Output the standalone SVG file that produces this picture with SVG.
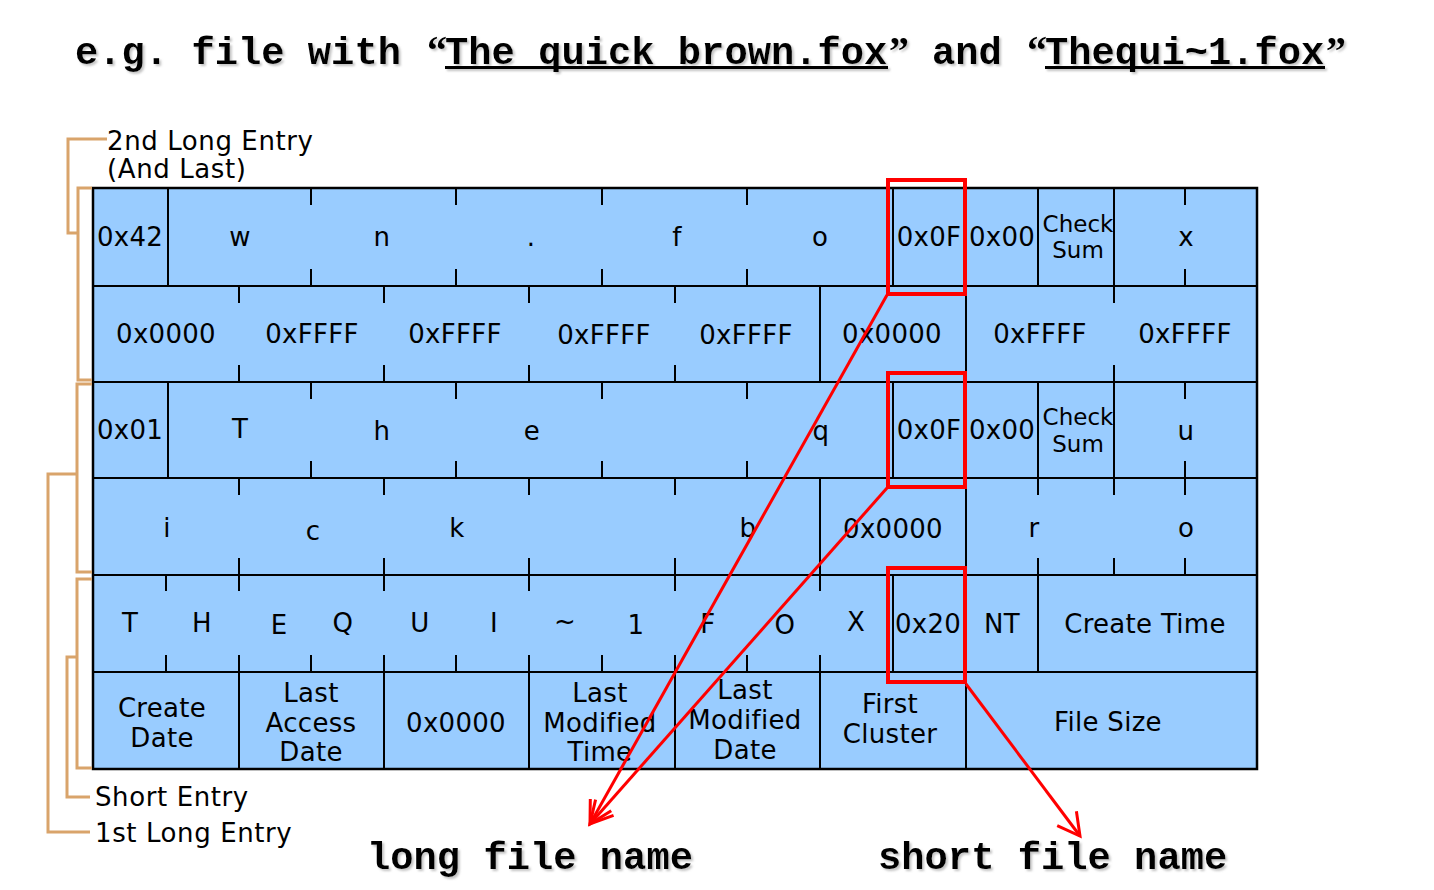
<svg xmlns="http://www.w3.org/2000/svg" width="1434" height="890" viewBox="0 0 1434 890">
<style>
.t{font-family:"DejaVu Sans","Liberation Sans",sans-serif;font-size:26px;fill:#000;text-anchor:middle;letter-spacing:0.3px}
.s{font-family:"DejaVu Sans","Liberation Sans",sans-serif;font-size:23px;fill:#000;text-anchor:middle}
.lbl{font-family:"DejaVu Sans","Liberation Sans",sans-serif;font-size:26px;fill:#000;letter-spacing:0.6px}
.big{font-family:"Liberation Mono","Courier New",monospace;font-weight:bold;font-size:38.8px;fill:#000}
.q{font-family:"Liberation Serif","Times New Roman",serif;font-weight:bold;font-size:40px}
.g{stroke:#000;stroke-width:2;fill:none}
.br{stroke:#D9A46B;stroke-width:3;fill:none}
.rb{stroke:#FF0000;stroke-width:4;fill:none}
.rl{stroke:#FF0000;stroke-width:3;fill:none}
</style>
<defs>
<filter id="sh" x="-5%" y="-30%" width="110%" height="160%">
<feDropShadow dx="2" dy="2" stdDeviation="1" flood-color="#888" flood-opacity="0.5"/>
</filter>
<marker id="ah" markerUnits="userSpaceOnUse" markerWidth="30" markerHeight="30" refX="0" refY="0" viewBox="-26 -15 30 30" orient="auto">
<path d="M -22 -12 L 0 0 L -22 12" stroke="#FF0000" stroke-width="3" fill="none"/>
</marker>
</defs>
<rect width="1434" height="890" fill="#fff"/>

<g id="title" filter="url(#sh)">
<text class="big" y="64"><tspan x="75">e.g. file with</tspan><tspan class="q" x="427">“</tspan><tspan x="445">The quick brown.fox</tspan><tspan class="q" x="889">”</tspan><tspan x="932">and</tspan><tspan class="q" x="1027">“</tspan><tspan x="1045">Thequi~1.fox</tspan><tspan class="q" x="1326">”</tspan></text>
<rect x="445" y="66" width="443" height="3" fill="#000"/>
<rect x="1045" y="66" width="280" height="3" fill="#000"/>
</g>

<g id="table">
<rect x="93" y="188" width="1164" height="581" fill="#99CCFF" stroke="#000" stroke-width="2.5"/>
<path class="g" d="M93 286H1257M93 382H1257M93 478H1257M93 575H1257M93 672H1257"/>
</g>

<g id="row1">
<path class="g" d="M168 188V286M893 188V286M966 188V286M1038 188V286M1114 188V286
M311 188v17M311 286v-17M456 188v17M456 286v-17M602 188v17M602 286v-17M747 188v17M747 286v-17M1185 188v17M1185 286v-17"/>
<text class="t" x="130" y="246">0x42</text>
<text class="t" x="240" y="246">w</text>
<text class="t" x="382" y="246">n</text>
<text class="t" x="531" y="246">.</text>
<text class="t" x="677" y="246">f</text>
<text class="t" x="820" y="246">o</text>
<text class="t" x="929" y="246">0x0F</text>
<text class="t" x="1002" y="246">0x00</text>
<text class="s" x="1078" y="232">Check</text>
<text class="s" x="1078" y="258">Sum</text>
<text class="t" x="1186" y="246">x</text>
</g>

<g id="row2">
<path class="g" d="M820 286V382M966 286V382
M239 286v17M239 382v-17M384 286v17M384 382v-17M529 286v17M529 382v-17M675 286v17M675 382v-17M1114 286v17M1114 382v-17"/>
<text class="t" x="166" y="343">0x0000</text>
<text class="t" x="312" y="343">0xFFFF</text>
<text class="t" x="455" y="343">0xFFFF</text>
<text class="t" x="604" y="344">0xFFFF</text>
<text class="t" x="746" y="344">0xFFFF</text>
<text class="t" x="892" y="343">0x0000</text>
<text class="t" x="1040" y="343">0xFFFF</text>
<text class="t" x="1185" y="343">0xFFFF</text>
</g>

<g id="row3">
<path class="g" d="M168 382V478M893 382V478M966 382V478M1038 382V478M1114 382V478
M311 382v17M311 478v-17M456 382v17M456 478v-17M602 382v17M602 478v-17M747 382v17M747 478v-17M1185 382v17M1185 478v-17"/>
<text class="t" x="130" y="439">0x01</text>
<text class="t" x="240" y="438">T</text>
<text class="t" x="382" y="440">h</text>
<text class="t" x="532" y="440">e</text>
<text class="t" x="821" y="440">q</text>
<text class="t" x="929" y="439">0x0F</text>
<text class="t" x="1002" y="439">0x00</text>
<text class="s" x="1078" y="425">Check</text>
<text class="s" x="1078" y="452">Sum</text>
<text class="t" x="1186" y="440">u</text>
</g>

<g id="row4">
<path class="g" d="M820 478V575M966 478V575
M239 478v17M239 575v-17M384 478v17M384 575v-17M529 478v17M529 575v-17M675 478v17M675 575v-17M1038 478v17M1038 575v-17M1114 478v17M1114 575v-17M1185 478v17M1185 575v-17"/>
<text class="t" x="167" y="537">i</text>
<text class="t" x="313" y="540">c</text>
<text class="t" x="457" y="537">k</text>
<text class="t" x="748" y="537">b</text>
<text class="t" x="893" y="538">0x0000</text>
<text class="t" x="1034" y="537">r</text>
<text class="t" x="1186" y="537">o</text>
</g>

<g id="row5">
<path class="g" d="M893 575V672M966 575V672M1038 575V672
M166 575v16M239 575v16M384 575v16M529 575v16M675 575v16M820 575v16
M166 672v-17M239 672v-17M311 672v-17M384 672v-17M456 672v-17M529 672v-17M602 672v-17M675 672v-17M747 672v-17M820 672v-17"/>
<text class="t" x="130" y="632">T</text>
<text class="t" x="202" y="632">H</text>
<text class="t" x="279" y="634">E</text>
<text class="t" x="343" y="632">Q</text>
<text class="t" x="420" y="632">U</text>
<text class="t" x="494" y="632">I</text>
<text class="t" x="565" y="630">~</text>
<text class="t" x="636" y="634">1</text>
<text class="t" x="708" y="633">F</text>
<text class="t" x="785" y="634">O</text>
<text class="t" x="856" y="631">X</text>
<text class="t" x="928" y="633">0x20</text>
<text class="t" x="1002" y="633">NT</text>
<text class="t" x="1145" y="633">Create Time</text>
</g>

<g id="row6">
<path class="g" d="M239 672V769M384 672V769M529 672V769M675 672V769M820 672V769M966 672V769"/>
<text class="t" x="162" y="717">Create</text>
<text class="t" x="162" y="747">Date</text>
<text class="t" x="311" y="702">Last</text>
<text class="t" x="311" y="732">Access</text>
<text class="t" x="311" y="761">Date</text>
<text class="t" x="456" y="732">0x0000</text>
<text class="t" x="600" y="702">Last</text>
<text class="t" x="600" y="732">Modified</text>
<text class="t" x="600" y="761">Time</text>
<text class="t" x="745" y="699">Last</text>
<text class="t" x="745" y="729">Modified</text>
<text class="t" x="745" y="759">Date</text>
<text class="t" x="890" y="713">First</text>
<text class="t" x="890" y="743">Cluster</text>
<text class="t" x="1108" y="731">File Size</text>
</g>

<g id="brackets">
<path class="br" d="M107 139H68V233H78"/>
<path class="br" d="M92 188H78V380H92"/>
<path class="br" d="M92 384H77V572H92M77 474H48V832H90"/>
<path class="br" d="M92 579H77V768H92M77 657H67V797H90"/>
<text class="lbl" x="107" y="150">2nd Long Entry</text>
<text class="lbl" x="107" y="178">(And Last)</text>
<text class="lbl" x="95" y="806">Short Entry</text>
<text class="lbl" x="95" y="842">1st Long Entry</text>
</g>

<g id="highlights">
<rect class="rb" x="888" y="180" width="77" height="114"/>
<rect class="rb" x="888" y="373" width="77" height="114"/>
<rect class="rb" x="888" y="568" width="77" height="114"/>
</g>

<g id="connectors">
<line class="rl" x1="887" y1="295" x2="590" y2="824" marker-end="url(#ah)"/>
<line class="rl" x1="887" y1="488" x2="590" y2="824" marker-end="url(#ah)"/>
<line class="rl" x1="966" y1="684" x2="1080" y2="836" marker-end="url(#ah)"/>
</g>

<g id="bottom-labels" filter="url(#sh)">
<text class="big" x="367" y="869">long file name</text>
<text class="big" x="878" y="869">short file name</text>
</g>
</svg>
